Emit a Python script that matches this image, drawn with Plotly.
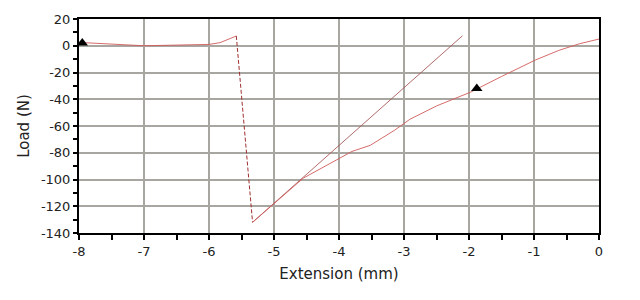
import plotly.graph_objects as go

# Data
pre_x = [-8.0, -7.0, -6.0, -5.83, -5.58]
pre_y = [2.5, 0.0, 1.0, 2.3, 7.3]

drop_x = [-5.58, -5.33]
drop_y = [7.3, -132.0]

reload_x = [-5.33, -2.10]
reload_y = [-132.0, 7.5]

unload_x = [-5.33, -4.55, -3.80, -3.52, -3.14, -2.91, -2.50, -1.98, -1.50, -0.98, -0.62, -0.30, 0.0]
unload_y = [-132.0, -99.0, -79.0, -74.5, -63.0, -55.0, -45.0, -34.8, -23.0, -10.7, -3.5, 1.5, 5.0]

marker_x = [-7.95, -1.88]
marker_y = [2.0, -32.0]

x_ticks = [-8, -7, -6, -5, -4, -3, -2, -1, 0]
x_tick_labels = ["-8", "-7", "-6", "-5", "-4", "-3", "-2", "-1", "0"]
y_ticks = [20, 0, -20, -40, -60, -80, -100, -120, -140]
y_tick_labels = ["20", "0", "-20", "-40", "-60", "-80", "-100", "-120", "-140"]

line_color = "#d05a5a"

fig = go.Figure()
fig.add_trace(go.Scatter(x=pre_x, y=pre_y, mode="lines",
                         line=dict(color=line_color, width=0.9)))
fig.add_trace(go.Scatter(x=drop_x, y=drop_y, mode="lines",
                         line=dict(color="#a03030", width=1, dash="4px,2px")))
fig.add_trace(go.Scatter(x=reload_x, y=reload_y, mode="lines",
                         line=dict(color="#a85a5a", width=0.9)))
fig.add_trace(go.Scatter(x=unload_x, y=unload_y, mode="lines",
                         line=dict(color=line_color, width=0.9)))
fig.add_trace(go.Scatter(x=marker_x, y=marker_y, mode="markers",
                         marker=dict(symbol="triangle-up", size=10, color="black")))

font = dict(family="DejaVu Sans, Verdana, sans-serif", size=13, color="#222")

fig.update_layout(
    width=640, height=300,
    margin=dict(l=79, r=41, t=19, b=67),
    paper_bgcolor="white", plot_bgcolor="white",
    showlegend=False,
    font=font,
    xaxis=dict(
        range=[-8, 0], tickmode="array", tickvals=x_ticks, ticktext=x_tick_labels,
        showgrid=True, gridcolor="#a8a6a0", gridwidth=2,
        showline=True, linecolor="black", linewidth=2, mirror=True,
        ticks="outside", ticklen=5, tickcolor="black", tickwidth=2,
        minor=dict(dtick=0.5, tick0=0, ticks="outside", ticklen=5, tickcolor="black", tickwidth=2, showgrid=False),
        zeroline=False,
        title=dict(text="Extension (mm)", standoff=11, font=dict(size=15)),
        tickfont=dict(size=13),
    ),
    yaxis=dict(
        range=[-140, 20], tickmode="array", tickvals=y_ticks, ticktext=y_tick_labels,
        showgrid=True, gridcolor="#a8a6a0", gridwidth=2,
        showline=True, linecolor="black", linewidth=2, mirror=True,
        ticks="outside", ticklen=4, tickcolor="black", tickwidth=2,
        minor=dict(dtick=10, tick0=0, ticks="outside", ticklen=4, tickcolor="black", tickwidth=2, showgrid=False),
        zeroline=False,
        title=dict(text="Load (N)", standoff=8, font=dict(size=15)),
        tickfont=dict(size=13),
    ),
)

fig.write_html("out.html")
